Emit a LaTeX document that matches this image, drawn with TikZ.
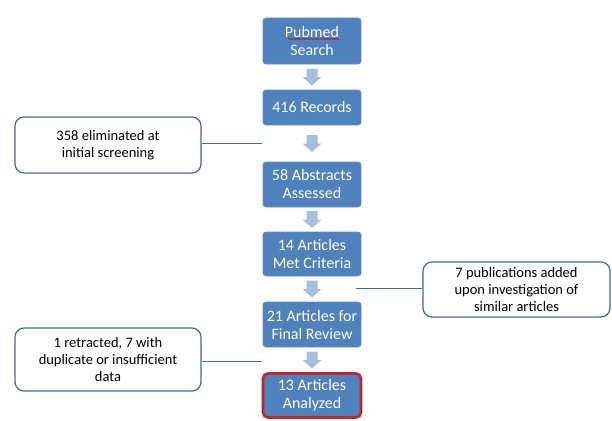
\documentclass[tikz,border=0pt]{standalone}
\usepackage{fontspec}
\setmainfont{Carlito}
\usetikzlibrary{decorations.pathmorphing}
\definecolor{boxblue}{HTML}{4F81BD}
\definecolor{boxedge}{HTML}{5B8FCC}
\definecolor{arrblue}{HTML}{A7BEDF}
\definecolor{sideedge}{HTML}{3F6C9E}
\definecolor{redge}{HTML}{C0262C}
\tikzset{
  x=1pt,y=-1pt,
  stepbox/.style={draw=boxedge,line width=0.8pt,fill=boxblue,rounded corners=3pt,
    minimum width=98pt,text=white,align=center,font=\fontsize{16}{18}\selectfont,inner sep=0pt},
  sidebox/.style={draw=sideedge,line width=1.2pt,fill=white,rounded corners=9pt,
    text=black,align=center,font=\fontsize{14.5}{17}\selectfont,inner sep=0pt},
  downarrow/.pic={\fill[arrblue] (-5.5,-8.5) -- (5.5,-8.5) -- (5.5,0) -- (9.5,0) -- (0,8.5) -- (-9.5,0) -- (-5.5,0) -- cycle;},
  link/.style={draw=sideedge,line width=1pt}
}
\begin{document}
\begin{tikzpicture}
\useasboundingbox[fill=white] (0,0) rectangle (612,420);
% main steps
\node[stepbox,minimum height=46pt] (s1) at (312,41) {Pubmed\\Search};
\node[stepbox,minimum height=35pt] (s2) at (312,107.5) {416 Records};
\node[stepbox,minimum height=45pt] (s3) at (312,184.5) {58 Abstracts\\Assessed};
\node[stepbox,minimum height=44pt] (s4) at (312,254) {14 Articles\\Met Criteria};
\node[stepbox,minimum height=45pt] (s5) at (312,324.5) {21 Articles for\\Final Review};
\node[stepbox,minimum height=44pt,draw=redge,line width=2.6pt,rounded corners=5pt] (s6) at (312,395.5) {13 Articles\\Analyzed};
% spellcheck squiggle under Pubmed
\draw[red!80!black,line width=0.5pt,decorate,decoration={snake,amplitude=0.6pt,segment length=2.5pt}] (288,39) -- (339,39);
% block arrows
\pic at (312,77) {downarrow};
\pic at (312,143.5) {downarrow};
\pic at (312,219.5) {downarrow};
\pic at (312,289) {downarrow};
\pic at (312,360) {downarrow};
% side boxes
\node[sidebox,minimum width=186pt,minimum height=56pt] (n1) at (108,145) {358 eliminated at\\initial screening};
\node[sidebox,minimum width=187pt,minimum height=55pt] (n2) at (516.5,289.5) {7 publications added\\upon investigation of\\similar articles};
\node[sidebox,minimum width=186pt,minimum height=63pt] (n3) at (108,359.5) {1 retracted, 7 with\\duplicate or insufficient\\data};
% connectors
\coordinate (c1) at (262,143);
\coordinate (c2) at (356,288);
\coordinate (c3) at (262,361);
\draw[link] (n1.east |- c1) -- (c1);
\draw[link] (c2) -- (n2.west |- c2);
\draw[link] (n3.east |- c3) -- (c3);
\end{tikzpicture}
\end{document}
